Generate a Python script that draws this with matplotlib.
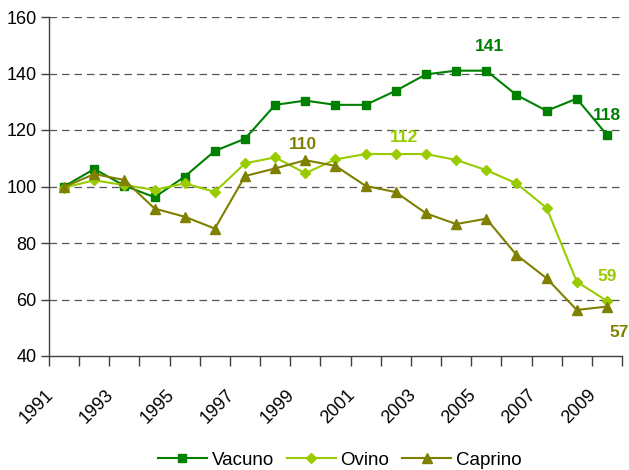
import matplotlib
matplotlib.use("Agg")
import matplotlib.pyplot as plt
import matplotlib.transforms as mtransforms

plt.rcParams['font.family'] = ['Liberation Sans', 'DejaVu Sans']

years = list(range(1991, 2010))
vacuno = [100, 106.2, 100.3, 96.2, 103.5, 112.6, 116.9, 128.9, 130.4, 128.9,
          128.9, 133.9, 139.7, 141, 141, 132.4, 126.8, 131.1, 118.3]
ovino = [99.6, 102.2, 100.5, 98.8, 101.1, 98.1, 108.2, 110.3, 104.7, 109.6,
         111.5, 111.5, 111.5, 109.4, 105.8, 101.1, 92.4, 66.3, 59.5]
caprino = [99.8, 104.4, 102.3, 92.2, 89.3, 85.1, 103.7, 106.4, 109.3, 107.3,
           100.2, 98.0, 90.5, 86.7, 88.6, 75.8, 67.5, 56.3, 57.5]
tick_years = [str(y) for y in range(1991, 2010, 2)]

c_vac = '#008000'
c_ovi = '#99cc00'
c_cap = '#808000'

fig = plt.figure(figsize=(6.29, 4.70), dpi=100)
ax = fig.add_axes([49/629, 1 - 356/470, (622-49)/629, (356-17)/470])

x = list(range(len(years)))
ax.plot(x, vacuno, color=c_vac, marker='s', ms=6, lw=1.5, label='Vacuno')
ax.plot(x, ovino, color=c_ovi, marker='D', ms=5.5, lw=1.5, label='Ovino')
ax.plot(x, caprino, color=c_cap, marker='^', ms=7, lw=1.5, label='Caprino')

ax.set_xlim(-0.5, len(years) - 0.5)
ax.set_ylim(40, 160)
ax.set_yticks(range(40, 161, 20))
ax.set_xticks([i - 0.5 for i in range(len(years) + 1)])
labels = []
for i in range(len(years) + 1):
    labels.append(tick_years[i // 2] if i % 2 == 0 and i // 2 < len(tick_years) else '')
ax.set_xticklabels(labels, rotation=45, ha='right', rotation_mode='anchor')
ax.tick_params(axis='x', length=7, width=1, color='#404040', labelsize=13, pad=15)
ax.tick_params(axis='y', length=6, width=1, color='#404040', labelsize=13, pad=3)
shift = mtransforms.ScaledTranslation(-4/100, 0, fig.dpi_scale_trans)
for lbl in ax.get_xticklabels():
    lbl.set_transform(lbl.get_transform() + shift)

for v in range(60, 161, 20):
    ax.axhline(v, color='#555555', lw=0.9, dashes=(6, 4), zorder=0)

for s in ['top', 'right']:
    ax.spines[s].set_visible(False)
ax.spines['left'].set_color('#404040')
ax.spines['bottom'].set_color('#404040')
ax.spines['left'].set_linewidth(1)
ax.spines['bottom'].set_linewidth(1)

fs = 12.5
ax.annotate('141', (14, 141), xytext=(2, 14), textcoords='offset points',
            ha='center', color=c_vac, fontsize=fs, fontweight='bold')
ax.annotate('118', (18, 118.3), xytext=(0, 11), textcoords='offset points',
            ha='center', color=c_vac, fontsize=fs, fontweight='bold')
ax.annotate('112', (11, 111.5), xytext=(6, 9), textcoords='offset points',
            ha='center', color=c_ovi, fontsize=fs, fontweight='bold')
ax.annotate('110', (8, 109.3), xytext=(-2, 8), textcoords='offset points',
            ha='center', color=c_cap, fontsize=fs, fontweight='bold')
ax.annotate('59', (18, 59.5), xytext=(0, 14), textcoords='offset points',
            ha='center', color=c_ovi, fontsize=fs, fontweight='bold')
ax.annotate('57', (18, 57.5), xytext=(9, -22), textcoords='offset points',
            ha='center', color=c_cap, fontsize=fs, fontweight='bold')

fig.legend(loc='center', bbox_to_anchor=(0.54, 10/470), ncol=3, frameon=False,
           fontsize=13.5, handlelength=2.6, columnspacing=0.7, handletextpad=0.25,
           borderpad=0)

fig.savefig('out.png', dpi=100)
